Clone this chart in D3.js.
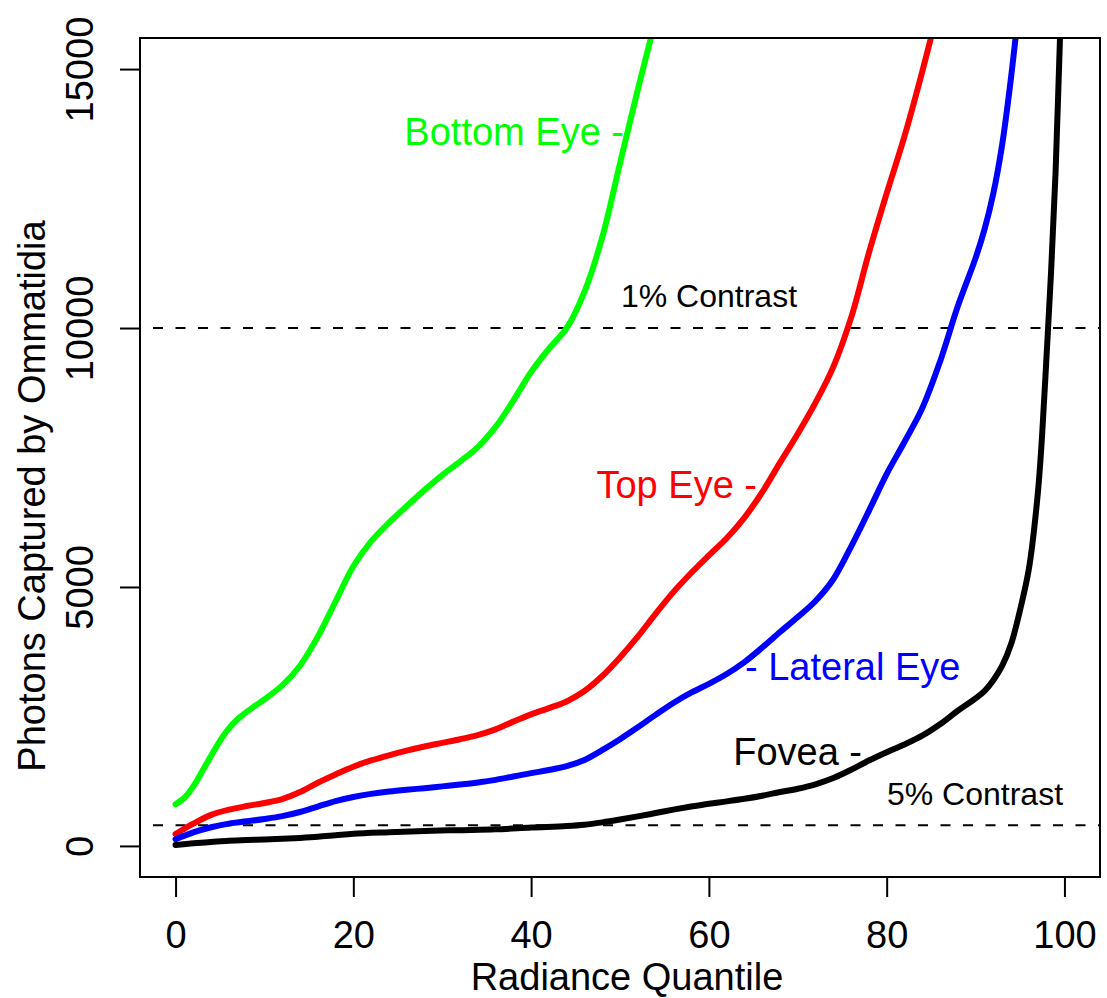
<!DOCTYPE html>
<html>
<head>
<meta charset="utf-8">
<script src="https://cdn.jsdelivr.net/npm/d3@7"></script>
<style>
  body { margin: 0; background: #fff; }
  text { font-family: "Liberation Sans", Arial, sans-serif; }
</style>
</head>
<body>
<div id="chart"></div>
<script>
// radiance quantile positions and photon counts
const fovea = [
  [0, 20], [2, 50], [4, 75], [6, 100], [8, 115], [10, 125], [12, 140], [14, 155],
  [16, 175], [18, 205], [20, 235], [24, 265], [28, 290], [32, 305], [36, 320],
  [40, 355], [44, 385], [46, 410], [48, 455], [50, 510], [52, 570], [54, 635],
  [56, 700], [58, 760], [60, 815], [62, 860], [64, 910], [66, 970], [68, 1040],
  [70, 1105], [72, 1190], [74, 1310], [76, 1470], [78, 1650], [80, 1810], [82, 1960],
  [84, 2130], [86, 2350], [88, 2610], [90, 2850], [91, 2990], [92, 3200], [93, 3480],
  [94, 3900], [95, 4550], [96, 5350], [97, 6800], [97.5, 7970], [98, 9500],
  [98.5, 11100], [99, 13000], [99.5, 15600], [100, 18000]
];
const lateralEye = [
  [0, 130], [2, 260], [4, 360], [6, 430], [8, 475], [10, 520], [12, 575], [14, 655],
  [16, 760], [18, 865], [20, 945], [22, 1005], [24, 1050], [26, 1085], [28, 1115],
  [30, 1150], [32, 1185], [34, 1225], [36, 1275], [38, 1340], [40, 1405], [42, 1465],
  [44, 1540], [46, 1660], [48, 1850], [50, 2060], [52, 2290], [54, 2530], [56, 2760],
  [58, 2960], [60, 3130], [62, 3320], [64, 3550], [66, 3830], [68, 4130], [70, 4420],
  [72, 4730], [74, 5150], [76, 5780], [78, 6470], [80, 7180], [82, 7800], [84, 8450],
  [86, 9350], [88, 10420], [90, 11350], [91, 11900], [92, 12600], [93, 13550],
  [94, 14850], [95, 16400]
];
const topEye = [
  [0, 230], [2, 430], [4, 600], [6, 700], [8, 770], [10, 830], [12, 905], [14, 1040],
  [16, 1220], [18, 1380], [20, 1530], [22, 1650], [24, 1750], [26, 1840], [28, 1920],
  [30, 1990], [32, 2060], [34, 2140], [36, 2250], [38, 2400], [40, 2540], [42, 2660],
  [44, 2790], [46, 2990], [48, 3280], [50, 3640], [52, 4040], [54, 4480], [56, 4900],
  [58, 5270], [60, 5610], [62, 5940], [64, 6340], [66, 6830], [68, 7400], [70, 7960],
  [72, 8560], [74, 9250], [76, 10200], [78, 11450], [80, 12600], [82, 13700],
  [84, 14950], [86, 16300]
];
const bottomEye = [
  [0, 805], [1, 930], [2, 1150], [3, 1440], [4, 1740], [5, 2030], [6, 2270], [7, 2450],
  [8, 2590], [9, 2710], [10, 2830], [12, 3100], [14, 3480], [16, 4040], [18, 4720],
  [20, 5400], [22, 5880], [24, 6240], [26, 6560], [28, 6870], [30, 7160], [32, 7420],
  [34, 7700], [36, 8090], [38, 8600], [40, 9150], [42, 9600], [44, 10000], [46, 10700],
  [48, 11750], [50, 13180], [52, 14600], [54, 15950]
];
const contrastLevels = [10000, 400];
const xTicks = [0, 20, 40, 60, 80, 100];
const yTicks = [0, 5000, 10000, 15000];

const width = 1107, height = 998;
const plotL = 140, plotR = 1100, plotT = 38, plotB = 877;

const x = d3.scaleLinear().domain([-4, 104]).range([plotL, plotR]);
const y = d3.scaleLinear().domain([-600, 15600]).range([plotB, plotT]);

const svg = d3.select("#chart").append("svg")
  .attr("width", width)
  .attr("height", height);

svg.append("defs").append("clipPath").attr("id", "plotClip")
  .append("rect")
  .attr("x", plotL).attr("y", plotT)
  .attr("width", plotR - plotL).attr("height", plotB - plotT);

// contrast threshold lines
svg.selectAll(".thresh")
  .data(contrastLevels)
  .enter()
  .append("line")
  .attr("x1", plotL).attr("x2", plotR)
  .attr("y1", d => y(d)).attr("y2", d => y(d))
  .attr("stroke", "#000")
  .attr("stroke-width", 2)
  .attr("stroke-dasharray", "10,12.5")
  .attr("stroke-dashoffset", 9.5);

const line = d3.line()
  .x(d => x(d[0]))
  .y(d => y(d[1]))
  .curve(d3.curveCatmullRom.alpha(0.5));

const series = [
  { data: bottomEye, color: "#00ff00" },
  { data: topEye, color: "#ff0000" },
  { data: lateralEye, color: "#0000ff" },
  { data: fovea, color: "#000000" }
];

svg.append("g")
  .attr("clip-path", "url(#plotClip)")
  .selectAll("path")
  .data(series)
  .enter()
  .append("path")
  .attr("d", d => line(d.data))
  .attr("fill", "none")
  .attr("stroke", d => d.color)
  .attr("stroke-width", 6)
  .attr("stroke-linejoin", "round")
  .attr("stroke-linecap", "round");

// box
svg.append("rect")
  .attr("x", plotL).attr("y", plotT)
  .attr("width", plotR - plotL).attr("height", plotB - plotT)
  .attr("fill", "none")
  .attr("stroke", "#000")
  .attr("stroke-width", 2);

// axes
const xAxis = svg.append("g")
  .attr("transform", `translate(0,${plotB})`)
  .call(d3.axisBottom(x).tickValues(xTicks).tickSize(20).tickFormat(d3.format("d")));
xAxis.select(".domain").remove();
xAxis.selectAll(".tick line").attr("stroke-width", 2);
xAxis.selectAll(".tick text")
  .attr("y", 71).attr("dy", null)
  .attr("font-size", 38)
  .attr("font-family", "Liberation Sans, Arial, sans-serif")
  .attr("fill", "#000");

const yAxis = svg.append("g")
  .attr("transform", `translate(${plotL},0)`)
  .call(d3.axisLeft(y).tickValues(yTicks).tickSize(20).tickFormat(d3.format("d")));
yAxis.select(".domain").remove();
yAxis.selectAll(".tick line").attr("stroke-width", 2);
yAxis.selectAll(".tick text")
  .attr("transform", "rotate(-90)")
  .attr("x", 0).attr("y", -47).attr("dy", null)
  .attr("text-anchor", "middle")
  .attr("font-size", 38)
  .attr("font-family", "Liberation Sans, Arial, sans-serif")
  .attr("fill", "#000");

svg.append("text")
  .attr("x", (plotL + plotR) / 2 + 7)
  .attr("y", 990)
  .attr("text-anchor", "middle")
  .attr("font-size", 38)
  .text("Radiance Quantile");

svg.append("text")
  .attr("transform", "translate(45,496) rotate(-90)")
  .attr("text-anchor", "middle")
  .attr("font-size", 38)
  .text("Photons Captured by Ommatidia");

// curve labels
const labels = [
  { text: "Bottom Eye -", x: 624, y: 145, anchor: "end", color: "#00ff00", size: 38 },
  { text: "Top Eye -", x: 757, y: 498, anchor: "end", color: "#ff0000", size: 38 },
  { text: "- Lateral Eye", x: 745, y: 680, anchor: "start", color: "#0000ff", size: 38 },
  { text: "Fovea -", x: 862, y: 765, anchor: "end", color: "#000000", size: 38 },
  { text: "1% Contrast", x: 709, y: 307, anchor: "middle", color: "#000000", size: 32 },
  { text: "5% Contrast", x: 975, y: 805, anchor: "middle", color: "#000000", size: 32 }
];

svg.selectAll(".lbl")
  .data(labels)
  .enter()
  .append("text")
  .attr("x", d => d.x)
  .attr("y", d => d.y)
  .attr("text-anchor", d => d.anchor)
  .attr("fill", d => d.color)
  .attr("font-size", d => d.size)
  .text(d => d.text);
</script>
</body>
</html>
